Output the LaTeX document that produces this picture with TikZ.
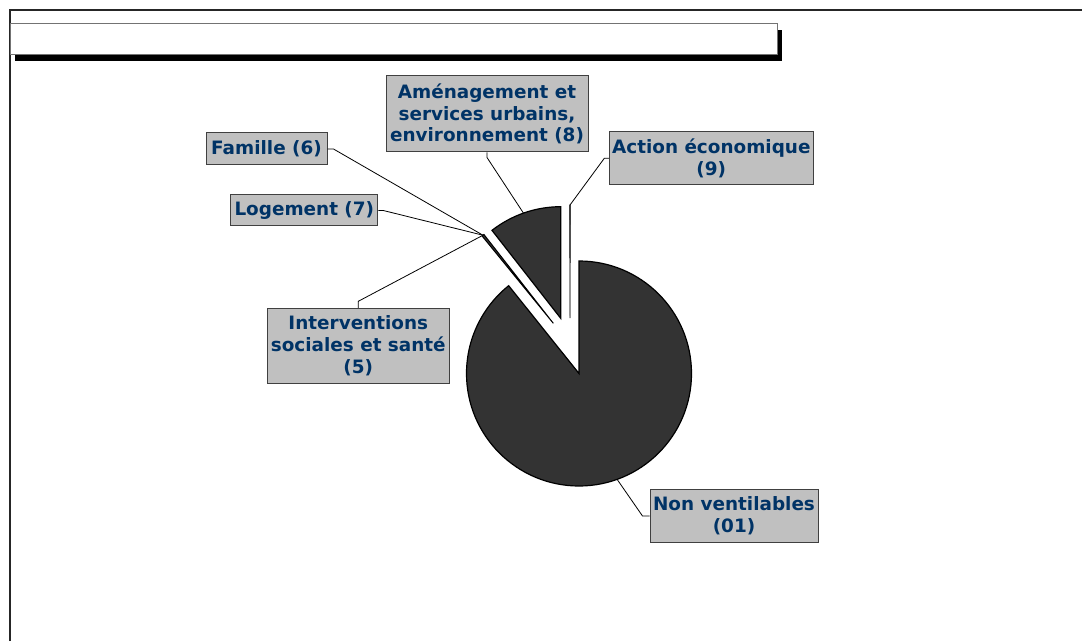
\documentclass[tikz,border=0pt]{standalone}
\usepackage{fontspec}
\setmainfont{DejaVu Sans}
\usetikzlibrary{calc}
\definecolor{labelblue}{RGB}{0,51,102}
\definecolor{labelgray}{RGB}{192,192,192}
\definecolor{slicegray}{RGB}{51,51,51}
\begin{document}
\begin{tikzpicture}[x=1pt,y=1pt,
  lbl/.style={draw=black!75, line width=1pt, fill=labelgray, text=labelblue,
    font=\fontsize{18.4}{21.7}\selectfont\bfseries, align=center, inner sep=0pt},
  slice/.style={fill=slicegray, draw=black, line width=1.2pt, line join=miter},
  thinslice/.style={fill=slicegray, draw=black, line width=0.8pt, line join=miter},
  leader/.style={draw=black, line width=0.8pt}]
\useasboundingbox (0,0) rectangle (1082,641);

% outer frame (top and left edges)
\draw[line width=1.5pt, black!85] (10,0) -- (10,631) -- (1082,631);

% title box with drop shadow
\fill[black] (15,580) rectangle (782,611);
\draw[fill=white, draw=black!55, line width=1pt] (10,586) rectangle (777,617);

% pie centres
\coordinate (C)   at (579,267.5);
\coordinate (A8)  at (560.7,322.7);
\coordinate (A9)  at (570,323);
\coordinate (A5)  at (553.3,317.7);

% main slice: Non ventilables (01)
\draw[slice] (C) -- ++(90:112.5) arc[start angle=90, end angle=-231.3, radius=112.5] -- cycle;
% exploded slice: Amenagement (8)
\draw[slice] (A8) -- ++(90:111.6) arc[start angle=90, end angle=128, radius=111.6] -- cycle;
% very thin slice: Action economique (9)
\draw[thinslice, line width=0.7pt] (A9) -- ++(89.85:113) arc[start angle=89.85, end angle=90.15, radius=113] -- cycle;
% very thin slices: 5, 6, 7
\draw[thinslice, line width=1pt] (A5) -- ++(128.0:112.7) arc[start angle=128.0, end angle=129.2, radius=112.7] -- cycle;

% anchor points on the slices for the leader lines
\coordinate (p567) at ($(A5)+(128.6:112.7)$);
\coordinate (p8)   at ($(A8)+(109.5:111.6)$);
\coordinate (p9)   at ($(A9)+(90:113)$);
\coordinate (p01)  at ($(C)+(-70.2:112.5)$);

% labels
\node[lbl, minimum width=202pt, minimum height=76pt] (amen) at (487,527)
  {Aménagement et\\services urbains,\\environnement (8)};
\node[lbl, minimum width=121pt, minimum height=32pt] (fam) at (266.5,492) {Famille (6)};
\node[lbl, minimum width=147pt, minimum height=31pt] (loge) at (304.3,430.5) {Logement (7)};
\node[lbl, minimum width=204pt, minimum height=53pt] (action) at (711.3,482.7)
  {Action économique\\(9)};
\node[lbl, minimum width=182pt, minimum height=75pt] (interv) at (358.3,295.2)
  {Interventions\\sociales et santé\\(5)};
\node[lbl, minimum width=168pt, minimum height=53pt] (nonv) at (734,125)
  {Non ventilables\\(01)};

% leader lines
\draw[leader] (fam.east) -- ++(6,0) -- (p567);
\draw[leader] (loge.east) -- ++(5,0) -- (p567);
\draw[leader] (interv.north) -- ++(0,6.5) -- (p567);
\draw[leader] (amen.south) -- ++(0,-5) -- (p8);
\draw[leader] (action.west) -- ++(-4.5,0) -- (p9);
\draw[leader] (nonv.west) -- ++(-7,0) -- (p01);
\end{tikzpicture}
\end{document}
